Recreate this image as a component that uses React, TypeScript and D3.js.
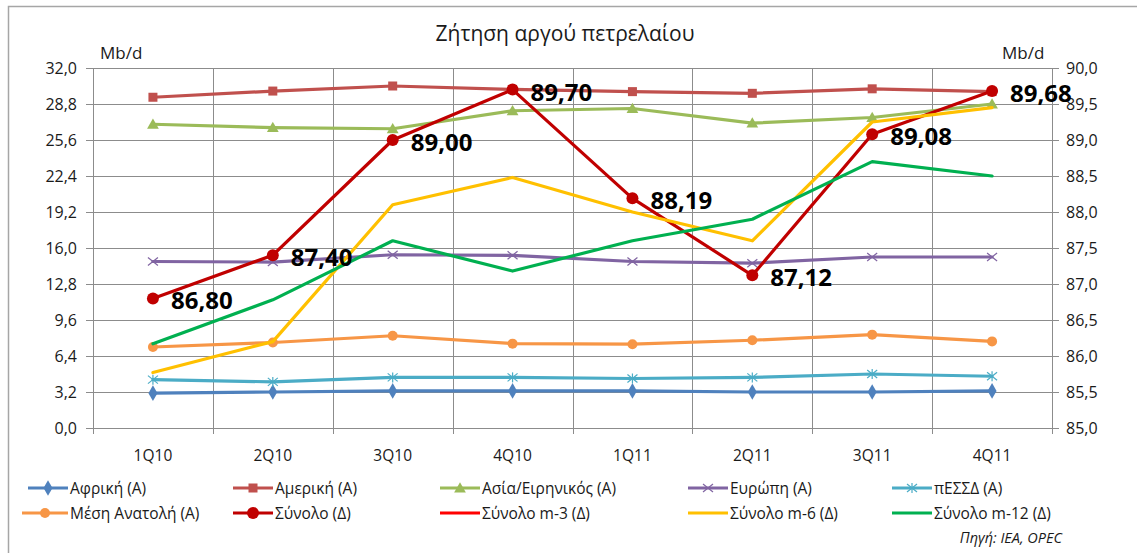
import React from "react";
import * as d3 from "d3";

const categories = ["1Q10", "2Q10", "3Q10", "4Q10", "1Q11", "2Q11", "3Q11", "4Q11"];

// Left axis (A) series, Mb/d
const africa = [3.1, 3.2, 3.3, 3.3, 3.3, 3.2, 3.2, 3.3];
const america = [29.4, 29.95, 30.4, 30.1, 29.9, 29.75, 30.15, 29.9];
const asia = [27.0, 26.7, 26.6, 28.2, 28.4, 27.1, 27.6, 28.8];
const europe = [14.8, 14.75, 15.4, 15.35, 14.8, 14.65, 15.2, 15.2];
const fsu = [4.3, 4.1, 4.5, 4.5, 4.4, 4.5, 4.8, 4.6];
const middleEast = [7.2, 7.6, 8.2, 7.5, 7.45, 7.8, 8.3, 7.7];

// Right axis (Δ) series, Mb/d
const total = [86.8, 87.4, 89.0, 89.7, 88.19, 87.12, 89.08, 89.68];
const totalM6 = [85.77, 86.2, 88.1, 88.48, 88.0, 87.6, 89.25, 89.45];
const totalM12 = [86.17, 86.78, 87.6, 87.18, 87.6, 87.9, 88.7, 88.5];

const leftTicks = [0, 3.2, 6.4, 9.6, 12.8, 16.0, 19.2, 22.4, 25.6, 28.8, 32.0];
const rightTicks = [85.0, 85.5, 86.0, 86.5, 87.0, 87.5, 88.0, 88.5, 89.0, 89.5, 90.0];

const FONT = "'Open Sans', 'Noto Sans', sans-serif";
const TXT = "#1a1a1a";
const GRID = "#8c8c8c";

type Marker = "diamond" | "square" | "triangle" | "x" | "asterisk" | "circle" | "bigcircle" | "none";

interface Series {
  name: string;
  values: number[];
  color: string;
  marker: Marker;
  axis: "L" | "R";
  draw: boolean;
}

const series: Series[] = [
  { name: "Αφρική (Α)", values: africa, color: "#4F81BD", marker: "diamond", axis: "L", draw: true },
  { name: "Αμερική (Α)", values: america, color: "#C0504D", marker: "square", axis: "L", draw: true },
  { name: "Ασία/Ειρηνικός  (Α)", values: asia, color: "#9BBB59", marker: "triangle", axis: "L", draw: true },
  { name: "Ευρώπη (Α)", values: europe, color: "#8064A2", marker: "x", axis: "L", draw: true },
  { name: "πΕΣΣΔ (Α)", values: fsu, color: "#4BACC6", marker: "asterisk", axis: "L", draw: true },
  { name: "Μέση Ανατολή (Α)", values: middleEast, color: "#F79646", marker: "circle", axis: "L", draw: true },
  { name: "Σύνολο (Δ)", values: total, color: "#C00000", marker: "bigcircle", axis: "R", draw: true },
  { name: "Σύνολο m-3 (Δ)", values: [], color: "#FF0000", marker: "none", axis: "R", draw: false },
  { name: "Σύνολο m-6 (Δ)", values: totalM6, color: "#FFC000", marker: "none", axis: "R", draw: true },
  { name: "Σύνολο m-12 (Δ)", values: totalM12, color: "#00B050", marker: "none", axis: "R", draw: true },
];

const W = 1137;
const H = 553;
const plotL = 93;
const plotR = 1052;
const plotT = 68;
const plotB = 428;

const fmt = (v: number) => d3.format(".1f")(v).replace(".", ",");
const fmt2 = (v: number) => d3.format(".2f")(v).replace(".", ",");

function MarkerShape({ type, x, y, color }: { type: Marker; x: number; y: number; color: string }) {
  switch (type) {
    case "diamond":
      return <path d={d3.symbol(d3.symbolDiamond, 70)()!} transform={`translate(${x},${y})`} fill={color} />;
    case "square":
      return <rect x={x - 4.5} y={y - 4.5} width={9} height={9} fill={color} />;
    case "triangle":
      return <path d={d3.symbol(d3.symbolTriangle, 60)()!} transform={`translate(${x},${y + 1})`} fill={color} />;
    case "x":
      return (
        <g stroke={color} strokeWidth={1.2}>
          <line x1={x - 5} y1={y - 4} x2={x + 5} y2={y + 4} />
          <line x1={x - 5} y1={y + 4} x2={x + 5} y2={y - 4} />
        </g>
      );
    case "asterisk":
      return (
        <g stroke={color} strokeWidth={1.2}>
          <line x1={x - 5} y1={y - 4} x2={x + 5} y2={y + 4} />
          <line x1={x - 5} y1={y + 4} x2={x + 5} y2={y - 4} />
          <line x1={x} y1={y - 5} x2={x} y2={y + 5} />
        </g>
      );
    case "circle":
      return <circle cx={x} cy={y} r={5} fill={color} />;
    case "bigcircle":
      return <circle cx={x} cy={y} r={6} fill={color} />;
    default:
      return null;
  }
}

export default function App() {
  const x = d3.scaleBand<string>().domain(categories).range([plotL, plotR]);
  const cx = (c: string) => (x(c) ?? 0) + x.bandwidth() / 2;
  const yL = d3.scaleLinear().domain([0, 32]).range([plotB, plotT]);
  const yR = d3.scaleLinear().domain([85, 90]).range([plotB, plotT]);

  const boundaries = [...categories.map((c) => x(c) ?? 0), plotR];

  const legendCols = [28, 233, 440, 688, 892];
  const legendRows = [488, 513];

  return (
    <svg
      width={W}
      height={H}
      style={{ position: "absolute", left: 0, top: 0, background: "#fff" }}
      fontFamily={FONT}
    >
      <rect x={0} y={0} width={W} height={H} fill="#fff" />
      {/* outer chart border (only left/top visible) */}
      <rect x={8.5} y={6.5} width={W + 20} height={H + 20} fill="none" stroke="#a6a6a6" strokeWidth={1.5} />

      {/* title */}
      <text x={565} y={41} textAnchor="middle" fontSize={21} fill={TXT}>
        Ζήτηση αργού πετρελαίου
      </text>
      <text x={100} y={59} fontSize={17} fill={TXT}>
        Mb/d
      </text>
      <text x={1002} y={59} fontSize={17} fill={TXT}>
        Mb/d
      </text>

      {/* horizontal gridlines */}
      {leftTicks.map((t) => (
        <line key={"h" + t} x1={plotL} x2={plotR} y1={Math.round(yL(t)) + 0.5} y2={Math.round(yL(t)) + 0.5} stroke={GRID} strokeWidth={1} />
      ))}
      {/* vertical gridlines at category boundaries */}
      {boundaries.map((b, i) => (
        <line key={"v" + i} x1={Math.round(b) + 0.5} x2={Math.round(b) + 0.5} y1={plotT} y2={plotB + 6} stroke={GRID} strokeWidth={1} />
      ))}

      {/* left axis ticks and labels */}
      {leftTicks.map((t) => (
        <g key={"lt" + t}>
          <line x1={plotL - 7} x2={plotL} y1={Math.round(yL(t)) + 0.5} y2={Math.round(yL(t)) + 0.5} stroke={GRID} />
          <text x={77} y={yL(t) + 5.5} textAnchor="end" fontSize={16} fill={TXT}>
            {fmt(t)}
          </text>
        </g>
      ))}
      {/* right axis ticks and labels */}
      {rightTicks.map((t) => (
        <g key={"rt" + t}>
          <line x1={plotR} x2={plotR + 7} y1={Math.round(yR(t)) + 0.5} y2={Math.round(yR(t)) + 0.5} stroke={GRID} />
          <text x={1066} y={yR(t) + 5.5} fontSize={16} fill={TXT}>
            {fmt(t)}
          </text>
        </g>
      ))}
      {/* x-axis labels */}
      {categories.map((c) => (
        <text key={"xl" + c} x={cx(c)} y={461} textAnchor="middle" fontSize={15.5} fill={TXT}>
          {c}
        </text>
      ))}

      {/* series lines */}
      {series
        .filter((s) => s.draw)
        .map((s) => {
          const ys = s.axis === "L" ? yL : yR;
          const line = d3
            .line<number>()
            .x((_, i) => cx(categories[i]))
            .y((v) => ys(v));
          return (
            <g key={s.name}>
              <path d={line(s.values) ?? ""} fill="none" stroke={s.color} strokeWidth={3.2} strokeLinejoin="round" strokeLinecap="round" />
              {s.values.map((v, i) => (
                <MarkerShape key={i} type={s.marker} x={cx(categories[i])} y={ys(v)} color={s.color} />
              ))}
            </g>
          );
        })}

      {/* data labels for total */}
      {total.map((v, i) => (
        <text key={"dl" + i} x={cx(categories[i]) + 18} y={yR(v) + 11} fontSize={24} fontWeight="bold" fill="#000">
          {fmt2(v)}
        </text>
      ))}

      {/* legend */}
      {series.map((s, i) => {
        const col = i % 5;
        const row = Math.floor(i / 5);
        const lx = legendCols[col] - (col === 0 && row === 1 ? 6 : 0);
        const ly = legendRows[row];
        const lineEnd = legendCols[col] + 40;
        const mx = (lx + lineEnd) / 2;
        return (
          <g key={"lg" + s.name}>
            <line x1={lx} x2={lineEnd} y1={ly} y2={ly} stroke={s.color} strokeWidth={3.2} />
            <MarkerShape type={s.marker} x={mx} y={ly} color={s.color} />
            <text x={lineEnd + 2} y={ly + 5.5} fontSize={15.5} fill={TXT}>
              {s.name}
            </text>
          </g>
        );
      })}

      <text x={1062} y={543} textAnchor="end" fontSize={14.5} fontStyle="italic" fill={TXT}>
        Πηγή: IEA, OPEC
      </text>
    </svg>
  );
}
